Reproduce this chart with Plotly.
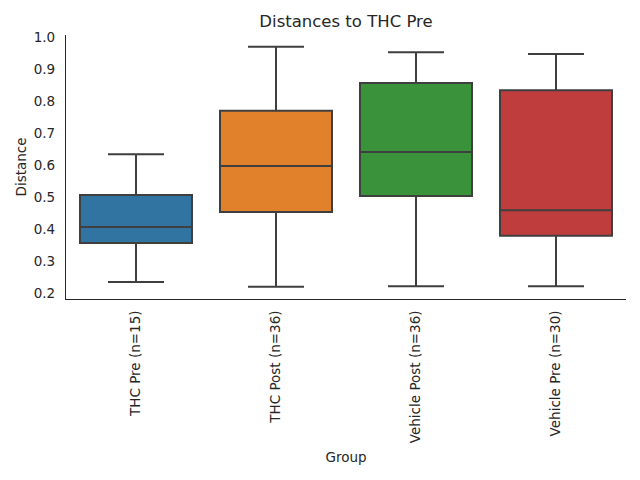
import plotly.graph_objects as go

groups = ["THC Pre (n=15)", "THC Post (n=36)", "Vehicle Post (n=36)", "Vehicle Pre (n=30)"]
lower = [0.236, 0.221, 0.223, 0.223]
q1 = [0.358, 0.455, 0.505, 0.381]
median = [0.408, 0.599, 0.642, 0.460]
q3 = [0.508, 0.771, 0.858, 0.835]
upper = [0.635, 0.971, 0.954, 0.949]
colors = ["#3274a1", "#e1812c", "#3a923a", "#c03d3e"]

fig = go.Figure()
for i, g in enumerate(groups):
    fig.add_trace(go.Box(
        x=[g], q1=[q1[i]], median=[median[i]], q3=[q3[i]],
        lowerfence=[lower[i]], upperfence=[upper[i]],
        fillcolor=colors[i], line=dict(color="#3f3f3f", width=2),
        width=0.8, whiskerwidth=0.5, boxpoints=False, hoverinfo="skip",
        showlegend=False,
    ))

# page body adds an 8px offset, so the figure is a bit smaller than the window
fig.update_layout(
    width=632, height=472,
    margin=dict(l=58, r=14, t=27, b=181),
    paper_bgcolor="white", plot_bgcolor="white",
    boxmode="overlay",
    font=dict(family="DejaVu Sans", size=13.5, color="#262626"),
    title=dict(text="Distances to THC Pre", x=(66 + 280 - 8) / 632, xanchor="center",
               y=1 - 13 / 472, yanchor="middle", font=dict(size=16.5)),
)
fig.update_xaxes(
    type="category", categoryorder="array", categoryarray=groups,
    range=[-0.5, len(groups) - 0.5],
    tickangle=-90, showline=True, linecolor="#262626", linewidth=1.2,
    showgrid=False, ticks="", ticklabelstandoff=5, automargin=False,
    tickfont=dict(size=13.5),
    title=dict(text="Group", standoff=10, font=dict(size=13.5)),
)
fig.update_yaxes(
    range=[0.183, 1.008], tickvals=[0.2, 0.3, 0.4, 0.5, 0.6, 0.7, 0.8, 0.9, 1.0],
    tickformat=".1f", showline=True, linecolor="#262626", linewidth=1.2,
    showgrid=False, zeroline=False, ticks="", ticklabelstandoff=7,
    automargin=False, tickfont=dict(size=13.5),
    title=dict(text="Distance", standoff=3, font=dict(size=13.5)),
)

fig.write_html("out.html")
